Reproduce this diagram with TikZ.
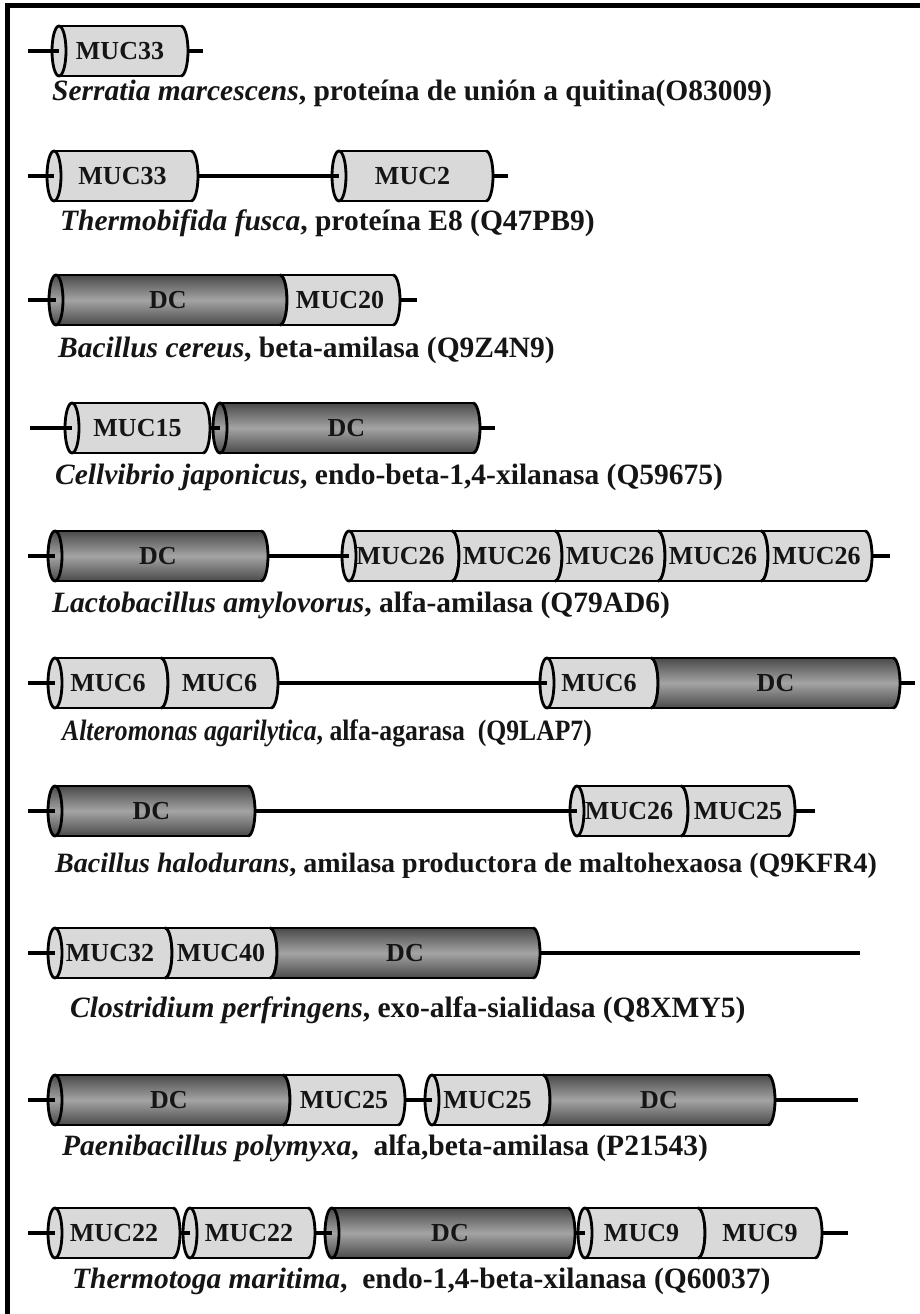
\documentclass[tikz,border=0pt]{standalone}
\usepackage{fontspec}
\setmainfont{Liberation Serif}
\definecolor{mucgray}{HTML}{D9D9D9}
\definecolor{dcdark}{HTML}{4A4A4A}
\definecolor{dclight}{HTML}{A4A4A4}
\definecolor{txt}{HTML}{151515}
% first segment of a cylinder: #1 name, #2 x left, #3 x right, #4 y, #5 fill, #6 text
\newcommand{\domfirst}[6]{%
  \path[#5] (#3,#4-25) arc[start angle=90,end angle=-90,x radius=7pt,y radius=25pt]
    -- (#2,#4+25) arc[start angle=-90,end angle=-270,x radius=7pt,y radius=25pt] -- cycle;
  \draw[rim] (#2,#4-25) -- (#3,#4-25) (#2,#4+25) -- (#3,#4+25);
  \draw[rim] (#2,#4) ellipse[x radius=7pt,y radius=25pt];
  \draw[rim] (#3,#4-25) arc[start angle=90,end angle=-90,x radius=7pt,y radius=25pt];
  \node[lbl] (#1) at ({(#2+#3)/2},#4) {#6};
  \coordinate (#1-l) at (#2,#4);
  \coordinate (#1-r) at (#3+7,#4);}
% following segment of the same cylinder
\newcommand{\domnext}[6]{%
  \path[#5] (#3,#4-25) arc[start angle=90,end angle=-90,x radius=7pt,y radius=25pt]
    -- (#2,#4+25) arc[start angle=-90,end angle=90,x radius=7pt,y radius=25pt] -- cycle;
  \draw[rim] (#2,#4-25) -- (#3,#4-25) (#2,#4+25) -- (#3,#4+25);
  \draw[rim] (#2,#4-25) arc[start angle=90,end angle=-90,x radius=7pt,y radius=25pt];
  \draw[rim] (#3,#4-25) arc[start angle=90,end angle=-90,x radius=7pt,y radius=25pt];
  \node[lbl] (#1) at ({(#2+#3)/2+3.5},#4) {#6};
  \coordinate (#1-l) at (#2,#4);
  \coordinate (#1-r) at (#3+7,#4);}
\begin{document}
\begin{tikzpicture}[x=1pt, y=-1pt,
  rim/.style={draw=black, line width=2.8pt, line join=round},
  bone/.style={draw=black, line width=3.8pt},
  muc/.style={fill=mucgray},
  dc/.style={top color=dcdark, bottom color=dcdark, middle color=dclight},
  lbl/.style={font=\fontsize{26}{28}\selectfont\bfseries, text=txt, inner sep=0pt},
  captxt/.style={font=\fontsize{29.5}{34}\selectfont\bfseries, text=txt, anchor=base west, inner sep=0pt}]
  \useasboundingbox[fill=white] (0,0) rectangle (920,1314);
  \draw[line width=5pt] (7.5,1314) -- (7.5,5.5) -- (920,5.5);

  % Serratia
  \domfirst{m1}{59}{181}{51}{muc}{MUC33}
  \coordinate (s1) at (28,51);
  \coordinate (e1) at (203,51);
  \draw[bone] (s1) -- (m1-l);
  \draw[bone] (m1-r) -- (e1);
  \node[captxt] (c1) at (52,100) {\textit{Serratia marcescens}, proteína de unión a quitina(O83009)};

  % Thermobifida
  \domfirst{m2a}{54}{191}{176}{muc}{MUC33}
  \domfirst{m2b}{339}{486}{176}{muc}{MUC2}
  \coordinate (s2) at (28,176);
  \coordinate (e2) at (508,176);
  \draw[bone] (s2) -- (m2a-l);
  \draw[bone] (m2a-r) -- (m2b-l);
  \draw[bone] (m2b-r) -- (e2);
  \node[captxt] (c2) at (60,230) {\textit{Thermobifida fusca}, proteína E8 (Q47PB9)};

  % Bacillus cereus
  \domfirst{d3}{56}{280}{300}{dc}{DC}
  \domnext{m3}{280}{393}{300}{muc}{MUC20}
  \coordinate (s3) at (28,300);
  \coordinate (e3) at (417,300);
  \draw[bone] (s3) -- (d3-l);
  \draw[bone] (m3-r) -- (e3);
  \node[captxt] (c3) at (58,357) {\textit{Bacillus cereus}, beta-amilasa (Q9Z4N9)};

  % Cellvibrio
  \domfirst{m4}{72}{203}{428}{muc}{MUC15}
  \domfirst{d4}{220}{473}{428}{dc}{DC}
  \coordinate (s4) at (30,428);
  \coordinate (e4) at (495,428);
  \draw[bone] (s4) -- (m4-l);
  \draw[bone] (m4-r) -- (d4-l);
  \draw[bone] (d4-r) -- (e4);
  \node[captxt] (c4) at (55,484) {\textit{Cellvibrio japonicus}, endo-beta-1,4-xilanasa (Q59675)};

  % Lactobacillus
  \domfirst{d5}{55}{261}{556}{dc}{DC}
  \domfirst{m5a}{349}{452}{556}{muc}{MUC26}
  \domnext{m5b}{452}{555}{556}{muc}{MUC26}
  \domnext{m5c}{555}{658}{556}{muc}{MUC26}
  \domnext{m5d}{658}{761}{556}{muc}{MUC26}
  \domnext{m5e}{761}{865}{556}{muc}{MUC26}
  \coordinate (s5) at (28,556);
  \coordinate (e5) at (890,556);
  \draw[bone] (s5) -- (d5-l);
  \draw[bone] (d5-r) -- (m5a-l);
  \draw[bone] (m5e-r) -- (e5);
  \node[captxt] (c5) at (52,612) {\textit{Lactobacillus amylovorus}, alfa-amilasa (Q79AD6)};

  % Alteromonas
  \domfirst{m6a}{55}{161}{683}{muc}{MUC6}
  \domnext{m6b}{161}{271}{683}{muc}{MUC6}
  \domfirst{m6c}{547}{651}{683}{muc}{MUC6}
  \domnext{d6}{651}{893}{683}{dc}{DC}
  \coordinate (s6) at (28,683);
  \coordinate (e6) at (915,683);
  \draw[bone] (s6) -- (m6a-l);
  \draw[bone] (m6b-r) -- (m6c-l);
  \draw[bone] (d6-r) -- (e6);
  \node[captxt, xscale=0.87, transform shape] (c6) at (62,740) {\textit{Alteromonas agarilytica}, alfa-agarasa\ \ (Q9LAP7)};

  % Bacillus halodurans
  \domfirst{d7}{55}{248}{811}{dc}{DC}
  \domfirst{m7a}{577}{681}{811}{muc}{MUC26}
  \domnext{m7b}{681}{788}{811}{muc}{MUC25}
  \coordinate (s7) at (28,811);
  \coordinate (e7) at (815,811);
  \draw[bone] (s7) -- (d7-l);
  \draw[bone] (d7-r) -- (m7a-l);
  \draw[bone] (m7b-r) -- (e7);
  \node[captxt, font=\fontsize{28}{32}\selectfont\bfseries] (c7) at (55,872) {\textit{Bacillus halodurans}, amilasa productora de maltohexaosa (Q9KFR4)};

  % Clostridium
  \domfirst{m8a}{55}{165}{953}{muc}{MUC32}
  \domnext{m8b}{165}{270}{953}{muc}{MUC40}
  \domnext{d8}{270}{533}{953}{dc}{DC}
  \coordinate (s8) at (28,953);
  \coordinate (e8) at (860,953);
  \draw[bone] (s8) -- (m8a-l);
  \draw[bone] (d8-r) -- (e8);
  \node[captxt] (c8) at (70,1017) {\textit{Clostridium perfringens}, exo-alfa-sialidasa (Q8XMY5)};

  % Paenibacillus
  \domfirst{d9a}{55}{283}{1100}{dc}{DC}
  \domnext{m9a}{283}{398}{1100}{muc}{MUC25}
  \domfirst{m9b}{432}{543}{1100}{muc}{MUC25}
  \domnext{d9b}{543}{768}{1100}{dc}{DC}
  \coordinate (s9) at (28,1100);
  \coordinate (e9) at (858,1100);
  \draw[bone] (s9) -- (d9a-l);
  \draw[bone] (m9a-r) -- (m9b-l);
  \draw[bone] (d9b-r) -- (e9);
  \node[captxt] (c9) at (62,1155) {\textit{Paenibacillus polymyxa},\ \ alfa,beta-amilasa (P21543)};

  % Thermotoga
  \domfirst{m10a}{55}{173}{1233}{muc}{MUC22}
  \domfirst{m10b}{190}{308}{1233}{muc}{MUC22}
  \domfirst{d10}{332}{568}{1233}{dc}{DC}
  \domfirst{m10c}{585}{698}{1233}{muc}{MUC9}
  \domnext{m10d}{698}{815}{1233}{muc}{MUC9}
  \coordinate (s10) at (28,1233);
  \coordinate (e10) at (848,1233);
  \draw[bone] (s10) -- (m10a-l);
  \draw[bone] (m10a-r) -- (m10b-l);
  \draw[bone] (m10b-r) -- (d10-l);
  \draw[bone] (d10-r) -- (m10c-l);
  \draw[bone] (m10d-r) -- (e10);
  \node[captxt] (c10) at (72,1288) {\textit{Thermotoga maritima},\ \ endo-1,4-beta-xilanasa (Q60037)};
\end{tikzpicture}
\end{document}
